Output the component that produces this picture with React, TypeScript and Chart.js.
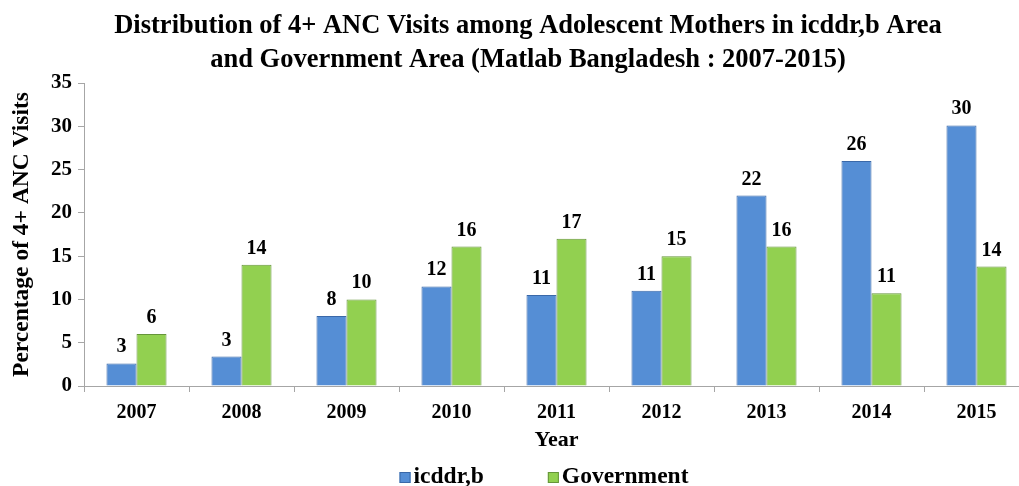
import React, { useEffect, useRef } from "react";
import { Chart, registerables } from "chart.js";

Chart.register(...registerables);

const years = ["2007", "2008", "2009", "2010", "2011", "2012", "2013", "2014", "2015"];
const icddrbValues = [2.6, 3.4, 8.1, 11.5, 10.5, 11.0, 22.0, 26.0, 30.1];
const governmentValues = [6.0, 14.0, 10.0, 16.1, 17.0, 15.0, 16.1, 10.7, 13.8];
const icddrbLabels = ["3", "3", "8", "12", "11", "11", "22", "26", "30"];
const governmentLabels = ["6", "14", "10", "16", "17", "15", "16", "11", "14"];
const seriesNames = ["icddr,b", "Government"];
const titleLines = [
  "Distribution of 4+ ANC Visits among Adolescent Mothers in icddr,b Area",
  "and Government Area (Matlab Bangladesh : 2007-2015)",
];
const yTitle = "Percentage of 4+ ANC Visits";
const xTitle = "Year";

const FONT = "'Liberation Serif', 'Times New Roman', serif";
const BLUE = "#558ED5";
const BLUE_BORDER = "#3A68A8";
const GREEN = "#92D050";
const GREEN_BORDER = "#66953A";
const AXIS = "#A6A6A6";

const CANVAS_W = 1054;
const CANVAS_H = 486;

const titlePlugin = {
  id: "customTitle",
  afterDraw(chart: any) {
    const ctx = chart.ctx;
    ctx.save();
    ctx.font = `bold 26.5px ${FONT}`;
    ctx.fillStyle = "#000";
    ctx.textAlign = "center";
    ctx.textBaseline = "alphabetic";
    titleLines.forEach((line, i) => {
      ctx.fillText(line, chart.width / 2 + 1, 33 + i * 34);
    });
    ctx.restore();
  },
};

const dataLabelPlugin = {
  id: "dataLabels",
  afterDatasetsDraw(chart: any) {
    const ctx = chart.ctx;
    const labelSets = [icddrbLabels, governmentLabels];
    ctx.save();
    ctx.font = `bold 20px ${FONT}`;
    ctx.fillStyle = "#000";
    ctx.textAlign = "center";
    ctx.textBaseline = "alphabetic";
    chart.data.datasets.forEach((_: any, di: number) => {
      const meta = chart.getDatasetMeta(di);
      meta.data.forEach((bar: any, i: number) => {
        ctx.fillText(labelSets[di][i], bar.x, bar.y - 11);
      });
    });
    ctx.restore();
  },
};

const legendPlugin = {
  id: "customLegend",
  afterDraw(chart: any) {
    const ctx = chart.ctx;
    ctx.save();
    ctx.font = `bold 23.5px ${FONT}`;
    ctx.textBaseline = "alphabetic";
    ctx.textAlign = "left";
    const box = 11;
    const gap = 3;
    const itemGap = 64;
    const widths = seriesNames.map((n) => box + gap + ctx.measureText(n).width);
    const total = widths.reduce((a, b) => a + b, 0) + itemGap * (seriesNames.length - 1);
    let x = chart.width / 2 + 17 - total / 2;
    const baseline = chart.height - 3;
    const fills = [BLUE, GREEN];
    const borders = [BLUE_BORDER, GREEN_BORDER];
    seriesNames.forEach((n, i) => {
      ctx.fillStyle = fills[i];
      ctx.strokeStyle = borders[i];
      ctx.lineWidth = 1;
      ctx.fillRect(x, baseline - box, box, box);
      ctx.strokeRect(x + 0.5, baseline - box + 0.5, box - 1, box - 1);
      ctx.fillStyle = "#000";
      ctx.fillText(n, x + box + gap, baseline);
      x += widths[i] + itemGap;
    });
    ctx.restore();
  },
};

export default function App() {
  const ref = useRef<HTMLCanvasElement | null>(null);

  useEffect(() => {
    if (!ref.current) return;
    const chart = new Chart(ref.current, {
      type: "bar",
      data: {
        labels: years,
        datasets: [
          {
            label: seriesNames[0],
            data: icddrbValues,
            backgroundColor: BLUE,
            borderColor: BLUE_BORDER,
            borderWidth: 1,
          },
          {
            label: seriesNames[1],
            data: governmentValues,
            backgroundColor: GREEN,
            borderColor: GREEN_BORDER,
            borderWidth: 1,
          },
        ],
      },
      options: {
        responsive: false,
        animation: false,
        devicePixelRatio: 1,
        layout: { padding: { left: 0, right: 25, top: 83, bottom: 32 } },
        datasets: {
          bar: { barPercentage: 1, categoryPercentage: 0.572 },
        },
        plugins: {
          legend: { display: false },
          tooltip: { enabled: false },
          title: { display: false },
        },
        scales: {
          x: {
            afterFit(scale: any) {
              scale.height = 68;
            },
            grid: {
              display: true,
              drawOnChartArea: false,
              drawTicks: true,
              tickLength: 6,
              color: AXIS,
              offset: true,
            },
            border: { display: true, color: AXIS, width: 1 },
            ticks: {
              color: "#000",
              font: { family: FONT, size: 20, weight: "bold" },
              padding: 9,
            },
            title: {
              display: true,
              text: xTitle,
              color: "#000",
              font: { family: FONT, size: 22, weight: "bold", lineHeight: 1.2 },
              padding: { top: 0, bottom: 0 },
            },
          },
          y: {
            min: 0,
            max: 35,
            afterFit(scale: any) {
              scale.width = 84;
            },
            grid: {
              display: true,
              drawOnChartArea: false,
              drawTicks: true,
              tickLength: 6,
              color: AXIS,
            },
            border: { display: true, color: AXIS, width: 1 },
            ticks: {
              stepSize: 5,
              color: "#000",
              font: { family: FONT, size: 21, weight: "bold" },
              padding: 6,
            },
            title: {
              display: true,
              text: yTitle,
              color: "#000",
              font: { family: FONT, size: 23.5, weight: "bold", lineHeight: 1.2 },
              padding: { top: 8, bottom: 0 },
            },
          },
        },
      },
      plugins: [titlePlugin, dataLabelPlugin, legendPlugin],
    } as any);
    return () => chart.destroy();
  }, []);

  return (
    <div
      style={{
        position: "fixed",
        left: 0,
        top: 0,
        width: 1019,
        height: CANVAS_H,
        overflow: "hidden",
        background: "#fff",
      }}
    >
      <canvas ref={ref} width={CANVAS_W} height={CANVAS_H} style={{ display: "block" }} />
    </div>
  );
}
